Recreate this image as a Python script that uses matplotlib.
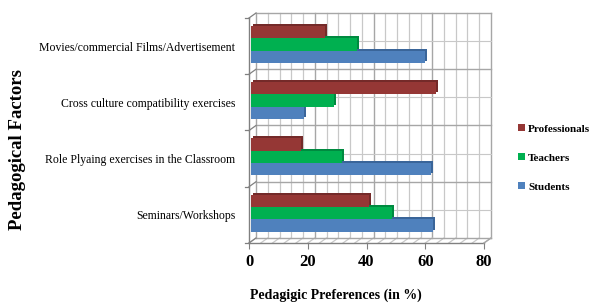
import matplotlib
matplotlib.use("Agg")
import matplotlib.pyplot as plt
import numpy as np

categories = ["Seminars/Workshops", "Role Plyaing exercises in the Classroom",
              "Cross culture compatibility exercises", "Movies/commercial Films/Advertisement"]
students = [62, 61, 18, 59]
teachers = [48, 31, 28, 36]
professionals = [40, 17, 63, 25]
series_names = ["Students", "Teachers", "Professionals"]
colors = ["#4F81BD", "#00B050", "#953735"]
dark = ["#3A6599", "#008A40", "#742A29"]
xticks = [0, 20, 40, 60, 80]

plt.rcParams['font.family'] = ['Liberation Serif', 'DejaVu Serif']
W, H = 590, 306
fig = plt.figure(figsize=(W/100, H/100), dpi=100)
L, B, R, T = 249, 243, 484, 18
ax = fig.add_axes([L/W, 1-B/H, (R-L)/W, (B-T)/H])
ax.set_xlim(0, 80)
ax.set_ylim(-0.5, 3.5)
ax.patch.set_alpha(0)

pxx = 80/(R-L)
pxy = 4/(B-T)
DX, DY = 7*pxx, 5*pxy  # back wall offset

grid_c = "#C8C8C8"
major_c = "#A6A6A6"
for xv in np.arange(0, 81, 4):
    c = major_c if xv % 20 == 0 else grid_c
    ax.plot([xv+DX, xv+DX], [-0.5+DY, 3.5+DY], color=c, lw=1.0 if xv % 20 == 0 else 0.9, zorder=1, clip_on=False)
for xv in np.arange(0, 81, 4):
    ax.plot([xv, xv+DX], [-0.5, -0.5+DY], color=grid_c, lw=0.9, zorder=1, clip_on=False)
for yv in np.arange(-0.5, 3.51, 0.5):
    major = abs((yv+0.5) % 1) < 1e-6
    ax.plot([DX, 80+DX], [yv+DY, yv+DY], color=major_c if major else grid_c, lw=1.0 if major else 0.8, zorder=1, clip_on=False)
ax.plot([0, 0], [-0.5, 3.5], color="#808080", lw=1.0, zorder=2, clip_on=False)
for yv in np.arange(-0.5, 3.51, 1.0):
    ax.plot([0, DX], [yv, yv+DY], color="#808080", lw=0.9, zorder=2, clip_on=False)
    ax.plot([-1.2, 0], [yv, yv], color="#808080", lw=0.9, zorder=2, clip_on=False)
ax.plot([0, 80], [-0.5, -0.5], color="#808080", lw=1.0, zorder=2, clip_on=False)
ax.plot([80, 80+DX], [-0.5, -0.5+DY], color="#A6A6A6", lw=1.0, zorder=2, clip_on=False)

for s in ax.spines.values():
    s.set_visible(False)

y = np.arange(len(categories))
bh = 0.22
offs = [-bh, 0, bh]
data = [students, teachers, professionals]
bdx, bdy = 2.0*pxx, 2.0*pxy
handles = []
for k in range(3):
    ax.barh(y + offs[k] + 0.03 + bdy, data[k], left=0.8 + bdx, height=bh,
            color=dark[k], zorder=3, clip_on=False)
    hb = ax.barh(y + offs[k] + 0.03, data[k], left=0.8, height=bh, color=colors[k], zorder=4,
                 label=series_names[k], clip_on=False)
    handles.append(hb)

ax.set_xticks(xticks)
ax.set_xticklabels([str(v) for v in xticks], fontsize=12, fontweight='bold')
ax.tick_params(axis='x', length=4, color="#808080", pad=4)
ax.set_yticks(y)
ax.set_yticklabels(categories, fontsize=8.5)
ax.tick_params(axis='y', length=0, pad=10)

ax.set_xlabel("Pedagigic Preferences (in %)", fontsize=10, fontweight='bold')
ax.xaxis.set_label_coords((336-L)/(R-L), -(295-B)/(B-T), transform=ax.transAxes)
ax.set_ylabel("Pedagogical Factors", fontsize=13.5, fontweight='bold')
ax.yaxis.set_label_coords(-(L-17)/(R-L), (B-150)/(B-T), transform=ax.transAxes)
ax.yaxis.label.set_va('center')
ax.xaxis.label.set_va('center')

fig.legend(handles[::-1], series_names[::-1], loc='center left', bbox_to_anchor=(508/W, 1-158/H),
           frameon=False, handlelength=0.6, handleheight=0.6, handletextpad=0.3, labelspacing=1.75,
           prop={'weight': 'bold', 'size': 8, 'family': 'Liberation Serif'})

fig.savefig("out.png", dpi=100)
